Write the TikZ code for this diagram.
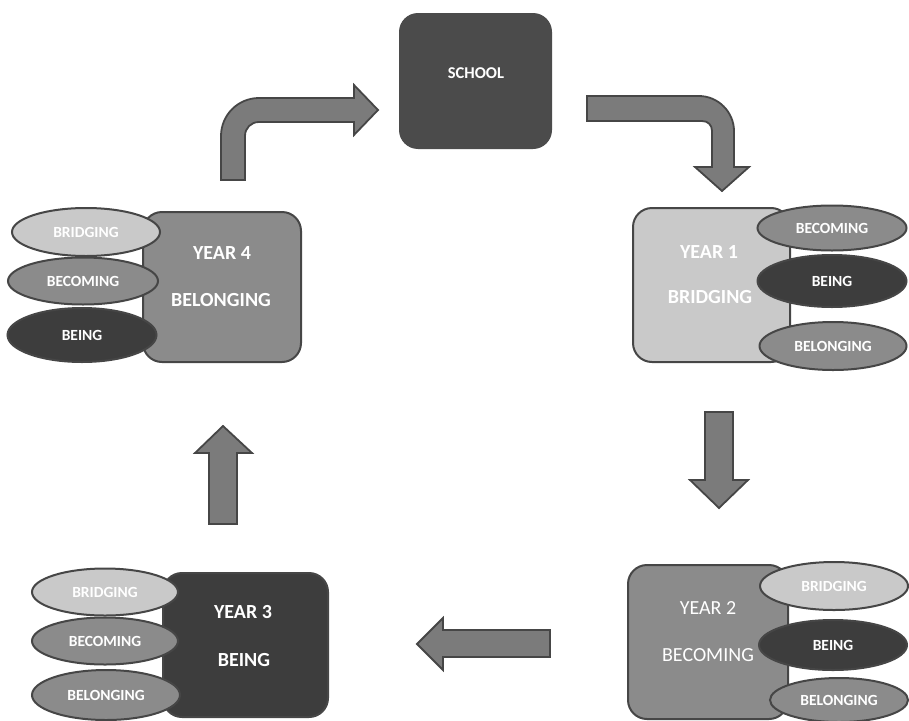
\documentclass[tikz,border=0pt]{standalone}
\usepackage{fontspec}
\setmainfont{Carlito}
\usetikzlibrary{shapes.geometric}
\definecolor{cLight}{HTML}{C9C9C9}
\definecolor{cMid}{HTML}{8B8B8B}
\definecolor{cDark}{HTML}{3D3D3D}
\definecolor{cSchool}{HTML}{4B4B4B}
\definecolor{cLine}{HTML}{464646}
\definecolor{cArrow}{HTML}{7B7B7B}
\tikzset{
  yearbox/.style={draw=cLine, line width=2pt, rounded corners=19pt, inner sep=0pt},
  oval/.style={ellipse, draw=cLine, line width=2pt, inner sep=0pt, text=white,
    font=\fontsize{15.5}{16}\selectfont\bfseries},
  boxtext/.style={text=white, inner sep=0pt, font=\fontsize{20}{22}\selectfont\bfseries},
  boxtextreg/.style={text=white, inner sep=0pt, font=\fontsize{20}{22}\selectfont},
  blockarrow/.style={fill=cArrow, draw=cLine, line width=1.8pt, line join=miter}
}
\begin{document}
\begin{tikzpicture}[x=1pt, y=-1pt]
\useasboundingbox (0,0) rectangle (909,720);

% main boxes
\node[yearbox, draw=none, fill=cSchool, minimum width=153pt, minimum height=136pt] (school) at (475.5,81) {};
\node[boxtext, font=\fontsize{16.5}{18}\selectfont\bfseries] (schoolT) at (476,73) {SCHOOL};

\node[yearbox, fill=cMid, minimum width=158pt, minimum height=150pt] (y4) at (222,287) {};
\node[yearbox, fill=cLight, minimum width=157pt, minimum height=154pt] (y1) at (711.5,285) {};
\node[yearbox, fill=cMid, minimum width=160pt, minimum height=154pt] (y2) at (708,642) {};
\node[yearbox, fill=cDark, minimum width=165pt, minimum height=144pt] (y3) at (245.5,645) {};

% Year 4 ovals
\node[oval, fill=cLight, minimum width=148pt, minimum height=48pt] (y4a) at (86,232) {BRIDGING};
\node[oval, fill=cMid, minimum width=150pt, minimum height=47pt] (y4b) at (83,281) {BECOMING};
\node[oval, fill=cDark, minimum width=149pt, minimum height=54pt] (y4c) at (82,335) {BEING};

% Year 1 ovals
\node[oval, fill=cMid, minimum width=149pt, minimum height=45pt] (y1a) at (832,228) {BECOMING};
\node[oval, fill=cDark, minimum width=149pt, minimum height=52pt] (y1b) at (832,281) {BEING};
\node[oval, fill=cMid, minimum width=147pt, minimum height=48pt] (y1c) at (833,346) {BELONGING};

% Year 2 ovals
\node[oval, fill=cLight, minimum width=148pt, minimum height=48pt] (y2a) at (834,586) {BRIDGING};
\node[oval, fill=cDark, minimum width=148pt, minimum height=50pt] (y2b) at (833,645) {BEING};
\node[oval, fill=cMid, minimum width=138pt, minimum height=44pt] (y2c) at (839,700) {BELONGING};

% Year 3 ovals
\node[oval, fill=cLight, minimum width=146pt, minimum height=47pt] (y3a) at (105,592) {BRIDGING};
\node[oval, fill=cMid, minimum width=146pt, minimum height=47pt] (y3b) at (105,641) {BECOMING};
\node[oval, fill=cMid, minimum width=148pt, minimum height=50pt] (y3c) at (106,695) {BELONGING};

% box texts
\node[boxtext] (y4t1) at (222,253) {YEAR 4};
\node[boxtext] (y4t2) at (221,300) {BELONGING};
\node[boxtext] (y1t1) at (709,252) {YEAR 1};
\node[boxtext] (y1t2) at (710,297) {BRIDGING};
\node[boxtextreg] (y2t1) at (708,608) {YEAR 2};
\node[boxtextreg] (y2t2) at (708,655) {BECOMING};
\node[boxtext] (y3t1) at (243,612) {YEAR 3};
\node[boxtext] (y3t2) at (244,660) {BEING};

% block arrows
% Year 4 -> School (bent)
\draw[blockarrow] (221,180) -- (221,136) .. controls (221,115) and (238,98) .. (259,98)
  -- (354,98) -- (354,85) -- (378,110) -- (354,135) -- (354,122) -- (259,122)
  .. controls (251,122) and (245,128) .. (245,136) -- (245,180) -- cycle;
% School -> Year 1 (bent)
\draw[blockarrow] (587,96) -- (699,96) .. controls (718,96) and (734,112) .. (734,131)
  -- (734,167) -- (749,167) -- (722,191) -- (695,167) -- (712,167) -- (712,131)
  .. controls (712,125) and (708,121) .. (702,121) -- (587,121) -- cycle;
% Year 1 -> Year 2
\draw[blockarrow] (705,412) -- (733,412) -- (733,480) -- (748,480) -- (719,508)
  -- (690,480) -- (705,480) -- cycle;
% Year 2 -> Year 3
\draw[blockarrow] (550,630) -- (550,657) -- (443,657) -- (443,670) -- (417,644)
  -- (443,618) -- (443,630) -- cycle;
% Year 3 -> Year 4
\draw[blockarrow] (209,524) -- (237,524) -- (237,453) -- (252,453) -- (223,426)
  -- (195,453) -- (209,453) -- cycle;
\end{tikzpicture}
\end{document}
